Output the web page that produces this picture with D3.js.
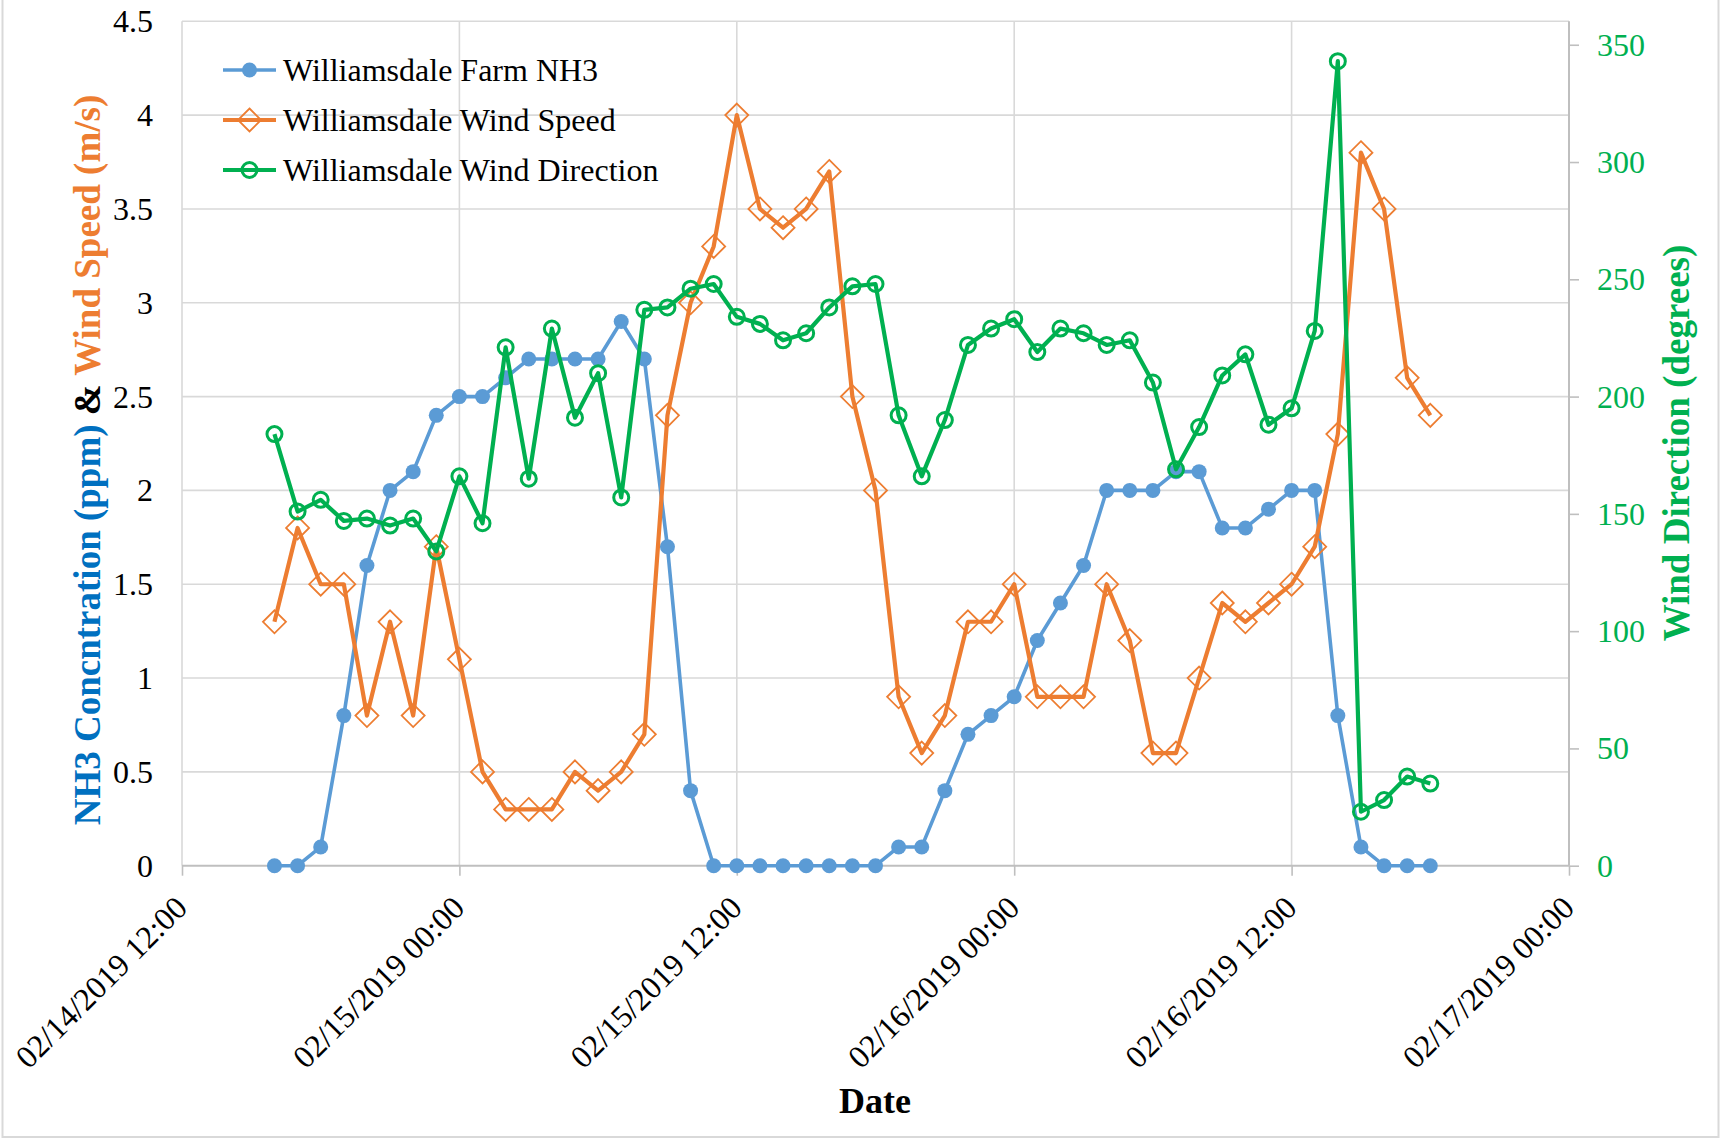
<!DOCTYPE html>
<html>
<head>
<meta charset="utf-8">
<script src="https://cdn.jsdelivr.net/npm/d3@7"></script>
<style>
  html, body { margin: 0; padding: 0; background: #fff; }
  svg { display: block; }
</style>
</head>
<body>
<script>
// ---------------- DATA ----------------
const times = [
  "2019-02-14 16:00","2019-02-14 17:00","2019-02-14 18:00","2019-02-14 19:00","2019-02-14 20:00",
  "2019-02-14 21:00","2019-02-14 22:00","2019-02-14 23:00","2019-02-15 00:00","2019-02-15 01:00",
  "2019-02-15 02:00","2019-02-15 03:00","2019-02-15 04:00","2019-02-15 05:00","2019-02-15 06:00",
  "2019-02-15 07:00","2019-02-15 08:00","2019-02-15 09:00","2019-02-15 10:00","2019-02-15 11:00",
  "2019-02-15 12:00","2019-02-15 13:00","2019-02-15 14:00","2019-02-15 15:00","2019-02-15 16:00",
  "2019-02-15 17:00","2019-02-15 18:00","2019-02-15 19:00","2019-02-15 20:00","2019-02-15 21:00",
  "2019-02-15 22:00","2019-02-15 23:00","2019-02-16 00:00","2019-02-16 01:00","2019-02-16 02:00",
  "2019-02-16 03:00","2019-02-16 04:00","2019-02-16 05:00","2019-02-16 06:00","2019-02-16 07:00",
  "2019-02-16 08:00","2019-02-16 09:00","2019-02-16 10:00","2019-02-16 11:00","2019-02-16 12:00",
  "2019-02-16 13:00","2019-02-16 14:00","2019-02-16 15:00","2019-02-16 16:00","2019-02-16 17:00",
  "2019-02-16 18:00"
];
const nh3 = [0,0,0.1,0.8,1.6,2.0,2.1,2.4,2.5,2.5,
  2.6,2.7,2.7,2.7,2.7,2.9,2.7,1.7,0.4,0,
  0,0,0,0,0,0,0,0.1,0.1,0.4,
  0.7,0.8,0.9,1.2,1.4,1.6,2.0,2.0,2.0,2.1,
  2.1,1.8,1.8,1.9,2.0,2.0,0.8,0.1,0,0,
  0];
const windSpeed = [1.3,1.8,1.5,1.5,0.8,1.3,0.8,1.7,1.1,0.5,
  0.3,0.3,0.3,0.5,0.4,0.5,0.7,2.4,3.0,3.3,
  4.0,3.5,3.4,3.5,3.7,2.5,2.0,0.9,0.6,0.8,
  1.3,1.3,1.5,0.9,0.9,0.9,1.5,1.2,0.6,0.6,
  1.0,1.4,1.3,1.4,1.5,1.7,2.3,3.8,3.5,2.6,
  2.4];
const windDir = [184,151,156,147,148,145,148,134,166,146,
  221,165,229,191,210,157,237,238,246,248,
  234,231,224,227,238,247,248,192,166,190,
  222,229,233,219,229,227,222,224,206,169,
  187,209,218,188,195,228,343,23,28,38,
  35];
const xTicks = ["2019-02-14 12:00","2019-02-15 00:00","2019-02-15 12:00","2019-02-16 00:00","2019-02-16 12:00","2019-02-17 00:00"];
const leftTicks = [0,0.5,1,1.5,2,2.5,3,3.5,4,4.5];
const rightTicks = [0,50,100,150,200,250,300,350];
const seriesNames = ["Williamsdale Farm NH3","Williamsdale Wind Speed","Williamsdale Wind Direction"];

// ---------------- LAYOUT ----------------
const W = 1721, H = 1144;
const L = 182, R = 1569, T = 21.3, B = 865.7;
const FONT = "'Liberation Serif','Times New Roman',serif";
const C_NH3 = "#5B9BD5", C_WS = "#ED7D31", C_WD = "#00B050";
const GRID = "#d9d9d9", AXIS = "#bfbfbf";

const parse = d3.timeParse("%Y-%m-%d %H:%M");
const fmt = d3.timeFormat("%m/%d/%Y %H:%M");
const tDates = times.map(parse);
const xTickDates = xTicks.map(parse);

const x = d3.scaleTime().domain([xTickDates[0], xTickDates[xTickDates.length-1]]).range([L, R]);
const yL = d3.scaleLinear().domain([0, 4.5]).range([B, T]);
const yR = d3.scaleLinear().domain([0, 360]).range([B, T]);

const svg = d3.select("body").append("svg").attr("width", W).attr("height", H);
svg.append("rect").attr("width", W).attr("height", H).attr("fill", "#fff");
svg.append("rect").attr("x", 2.5).attr("y", -2).attr("width", 1716).attr("height", 1139)
  .attr("fill", "none").attr("stroke", "#d9d9d9").attr("stroke-width", 2);

// gridlines
svg.append("g").selectAll("line").data(leftTicks.slice(1)).join("line")
  .attr("x1", L).attr("x2", R).attr("y1", d => yL(d)).attr("y2", d => yL(d))
  .attr("stroke", GRID).attr("stroke-width", 1.6);
svg.append("g").selectAll("line").data(xTickDates.slice(0, -1)).join("line")
  .attr("x1", d => x(d)).attr("x2", d => x(d)).attr("y1", T).attr("y2", B)
  .attr("stroke", GRID).attr("stroke-width", 1.6);

// bottom axis
const xAxis = d3.axisBottom(x).tickValues(xTickDates).tickSize(10).tickFormat("");
const gx = svg.append("g").attr("transform", `translate(0,${B})`).call(xAxis);
gx.select(".domain").attr("stroke", AXIS).attr("stroke-width", 2).attr("d", `M${L},0H${R}`);
gx.selectAll(".tick line").attr("stroke", AXIS).attr("stroke-width", 1.6);
svg.append("g").selectAll("text").data(xTickDates).join("text")
  .attr("transform", d => `translate(${x(d) + 7},${B + 44}) rotate(-45)`)
  .attr("text-anchor", "end").attr("font-family", FONT).attr("font-size", 32).attr("fill", "#000")
  .text(d => fmt(d));

// left axis (labels only)
const yAxisL = d3.axisLeft(yL).tickValues(leftTicks).tickSize(0).tickFormat(d3.format("~g"));
const gyl = svg.append("g").attr("transform", `translate(${L - 29},0)`).call(yAxisL);
gyl.select(".domain").remove();
gyl.selectAll(".tick text").attr("font-family", FONT).attr("font-size", 32).attr("fill", "#000")
  .attr("x", 0).attr("dy", "0.33em");

// right axis
const yAxisR = d3.axisRight(yR).tickValues(rightTicks).tickSize(10).tickPadding(18);
const gyr = svg.append("g").attr("transform", `translate(${R},0)`).call(yAxisR);
gyr.select(".domain").attr("stroke", AXIS).attr("stroke-width", 2).attr("d", `M0,${T}V${B}`);
gyr.selectAll(".tick line").attr("stroke", AXIS).attr("stroke-width", 1.6);
gyr.selectAll(".tick text").attr("font-family", FONT).attr("font-size", 32).attr("fill", C_WD)
  .attr("dy", "0.33em");

// ---------------- SERIES ----------------
const idx = d3.range(times.length);
const lineNH3 = d3.line().x(i => x(tDates[i])).y(i => yL(nh3[i]));
const lineWS = d3.line().x(i => x(tDates[i])).y(i => yL(windSpeed[i]));
const lineWD = d3.line().x(i => x(tDates[i])).y(i => yR(windDir[i]));

const diamond = (cx, cy, r) => `M${cx},${cy - r}L${cx + r},${cy}L${cx},${cy + r}L${cx - r},${cy}Z`;

// NH3
svg.append("path").attr("d", lineNH3(idx)).attr("fill", "none").attr("stroke", C_NH3)
  .attr("stroke-width", 3.6).attr("stroke-linejoin", "round");
svg.append("g").selectAll("circle").data(idx).join("circle")
  .attr("cx", i => x(tDates[i])).attr("cy", i => yL(nh3[i])).attr("r", 7.5).attr("fill", C_NH3);

// Wind speed
svg.append("path").attr("d", lineWS(idx)).attr("fill", "none").attr("stroke", C_WS)
  .attr("stroke-width", 4.2).attr("stroke-linejoin", "round");
svg.append("g").selectAll("path").data(idx).join("path")
  .attr("d", i => diamond(x(tDates[i]), yL(windSpeed[i]), 11.5))
  .attr("fill", "none").attr("stroke", C_WS).attr("stroke-width", 1.8);

// Wind direction
svg.append("path").attr("d", lineWD(idx)).attr("fill", "none").attr("stroke", C_WD)
  .attr("stroke-width", 4.2).attr("stroke-linejoin", "round");
svg.append("g").selectAll("circle").data(idx).join("circle")
  .attr("cx", i => x(tDates[i])).attr("cy", i => yR(windDir[i])).attr("r", 7.5)
  .attr("fill", "none").attr("stroke", C_WD).attr("stroke-width", 3);

// ---------------- LEGEND ----------------
const lg = svg.append("g");
const legendRows = [70, 120, 170];
const legendColors = [C_NH3, C_WS, C_WD];
seriesNames.forEach((name, k) => {
  const yy = legendRows[k];
  lg.append("line").attr("x1", 223).attr("x2", 276).attr("y1", yy).attr("y2", yy)
    .attr("stroke", legendColors[k]).attr("stroke-width", k === 0 ? 3.6 : 4.2);
  if (k === 0) lg.append("circle").attr("cx", 249.5).attr("cy", yy).attr("r", 7.5).attr("fill", C_NH3);
  if (k === 1) lg.append("path").attr("d", diamond(249.5, yy, 11.5)).attr("fill", "none")
    .attr("stroke", C_WS).attr("stroke-width", 1.8);
  if (k === 2) lg.append("circle").attr("cx", 249.5).attr("cy", yy).attr("r", 7.5).attr("fill", "none")
    .attr("stroke", C_WD).attr("stroke-width", 3);
  lg.append("text").attr("x", 283).attr("y", yy + 11).attr("font-family", FONT).attr("font-size", 32)
    .attr("fill", "#000").text(name);
});

// ---------------- TITLES ----------------
const lt = svg.append("text").attr("transform", "translate(100,460) rotate(-90)")
  .attr("text-anchor", "middle").attr("font-family", FONT).attr("font-size", 37).attr("font-weight", "bold");
lt.append("tspan").attr("fill", "#0070C0").text("NH3 Concntration (ppm) ");
lt.append("tspan").attr("fill", "#000").text("& ");
lt.append("tspan").attr("fill", C_WS).text("Wind Speed (m/s)");

svg.append("text").attr("transform", "translate(1689,443) rotate(-90)")
  .attr("text-anchor", "middle").attr("font-family", FONT).attr("font-size", 37).attr("font-weight", "bold")
  .attr("fill", C_WD).text("Wind Direction (degrees)");

svg.append("text").attr("x", 875).attr("y", 1113).attr("text-anchor", "middle")
  .attr("font-family", FONT).attr("font-size", 36).attr("font-weight", "bold").attr("fill", "#000")
  .text("Date");
</script>
</body>
</html>
